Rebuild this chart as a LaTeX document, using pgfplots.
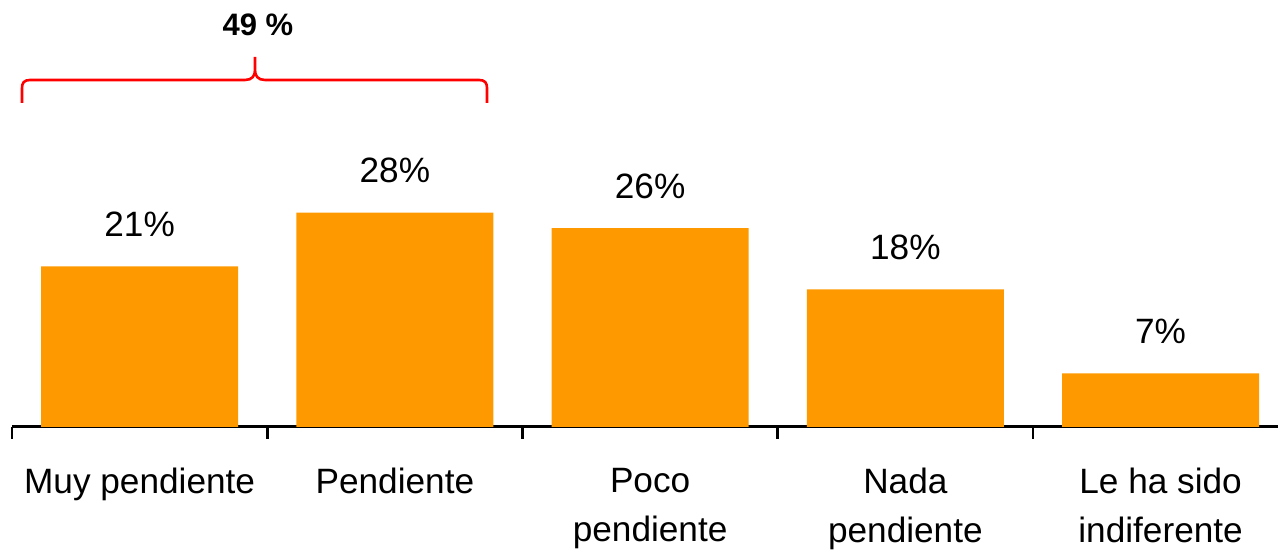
\documentclass[border=0pt]{standalone}
\usepackage{pgfplots}
\pgfplotsset{compat=1.18}
\usepackage{fontspec}
\setmainfont{Liberation Sans}
\definecolor{barorange}{HTML}{FF9900}
\definecolor{bracered}{HTML}{FF0000}
\begin{document}
\begin{tikzpicture}
\begin{axis}[
  at={(6pt,61.5pt)}, anchor=south west,
  scale only axis, width=633pt, height=213.5pt,
  xmin=-0.5, xmax=4.46, ymin=0, ymax=55.8,
  axis x line=bottom, axis y line=none,
  axis line style={-, line width=1.5pt, black},
  ybar, bar width=98.5pt,
  xtick={0,1,2,3,4},
  xticklabels={{Muy pendiente},{Pendiente},{Poco\\pendiente},{Nada\\pendiente},{Le ha sido\\indiferente}},
  major tick length=0pt,
  major tick style={draw=none},
  minor xtick={-0.5,0.5,1.5,2.5,3.5},
  minor tick length=6pt,
  tick align=outside,
  minor tick style={line width=1.3pt, black},
  xticklabel style={font={\fontsize{17.6}{24.5}\selectfont}, align=center, anchor=north, inner sep=0pt, yshift=-20.5pt},
  /pgf/number format/assume math mode=true,
  nodes near coords={\pgfmathprintnumber{\pgfplotspointmeta}\%},
  nodes near coords style={font={\fontsize{17.6}{22}\selectfont}, anchor=base, yshift=15pt, black},
  clip=false,
]
\addplot[fill=barorange, draw=none] coordinates {(0,21) (1,28) (2,26) (3,18) (4,7)};
\end{axis}
\begin{scope}[x=0.5pt,y=-0.5pt,yshift=275pt]
\draw[bracered, line width=1.3pt] (22,103) -- (22,88) .. controls (22,83) and (24,80) .. (30,80) -- (245,80) .. controls (252,80) and (255,76) .. (255,70) -- (255,57)
  (255,70) .. controls (255,76) and (258,80) .. (265,80) -- (479,80) .. controls (485,80) and (487,83) .. (487,88) -- (487,103);
\node[anchor=base, inner sep=0pt, font={\fontsize{15.5}{18}\selectfont\bfseries}] at (258,36) {49 \%};
\end{scope}
\pgfresetboundingbox
\path (0,0) rectangle (639pt,275pt);
\end{tikzpicture}
\end{document}
